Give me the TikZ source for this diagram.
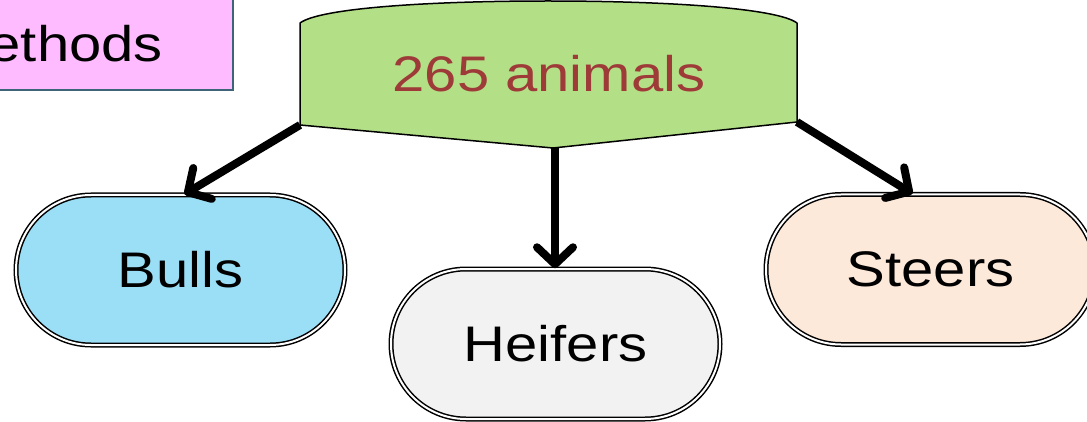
\documentclass[tikz,border=0pt]{standalone}
\usepackage{fontspec}
\setmainfont{Liberation Sans}[FakeStretch=1.16]
\usetikzlibrary{arrows.meta}
\definecolor{pinkfill}{HTML}{FFBBFF}
\definecolor{pinkedge}{HTML}{3E6478}
\definecolor{greenfill}{HTML}{B3DF87}
\definecolor{redtext}{HTML}{9E3A38}
\definecolor{bluefill}{HTML}{9BDFF7}
\definecolor{greyfill}{HTML}{F2F2F2}
\definecolor{peachfill}{HTML}{FDE9DA}
\tikzset{
  bigtext/.style={font=\fontsize{50}{60}\selectfont},
  pill/.style={bigtext, text=black, rectangle, rounded corners=75pt,
    minimum width=329pt, minimum height=150pt, inner sep=0pt,
    draw=black, line width=1.5pt, double=white, double distance=2pt},
  link/.style={line width=8pt,
    -{Straight Barb[length=17pt,width=36pt,line width=8pt,round]}}
}
\begin{document}
\begin{tikzpicture}[x=1pt,y=-1pt]
\useasboundingbox (0,0) rectangle (1087,422);
\begin{scope}
\clip (0,0) rectangle (1087,422);
% title box on the left, partly outside the page
\draw[fill=pinkfill, draw=pinkedge, line width=1.2pt] (-200,-10) rectangle (233,90);
\node[bigtext, anchor=base east, inner sep=0pt] (title) at (163,62) {Methods};
% source shape
\coordinate (tl) at (300,23);
\coordinate (tr) at (797,23);
\coordinate (br) at (797,122);
\coordinate (bm) at (553,148);
\coordinate (bl) at (300,125);
\draw[fill=greenfill, line width=1.5pt, line join=round]
  (tl) .. controls (320,8) and (430,1) .. (548,1)
       .. controls (666,1) and (777,8) .. (tr)
  -- (br) -- (bm) -- (bl) -- cycle;
\node[bigtext, text=redtext, anchor=base, inner sep=0pt] (src) at (549,92) {265 animals};
% categories
\node[pill, fill=bluefill]  (bulls)   at (180.5,270) {Bulls};
\node[pill, fill=greyfill]  (heifers) at (555.5,344) {Heifers};
\node[pill, fill=peachfill] (steers)  at (930.5,269.5) {Steers};
% connectors
\draw[link] (bl) -- ([xshift=4pt]bulls.north);
\draw[link] ([xshift=2pt]bm) -- ([xshift=2pt]bm |- heifers.north);
\draw[link] (br) -- ([xshift=-18pt]steers.north);
\end{scope}
\end{tikzpicture}
\end{document}
